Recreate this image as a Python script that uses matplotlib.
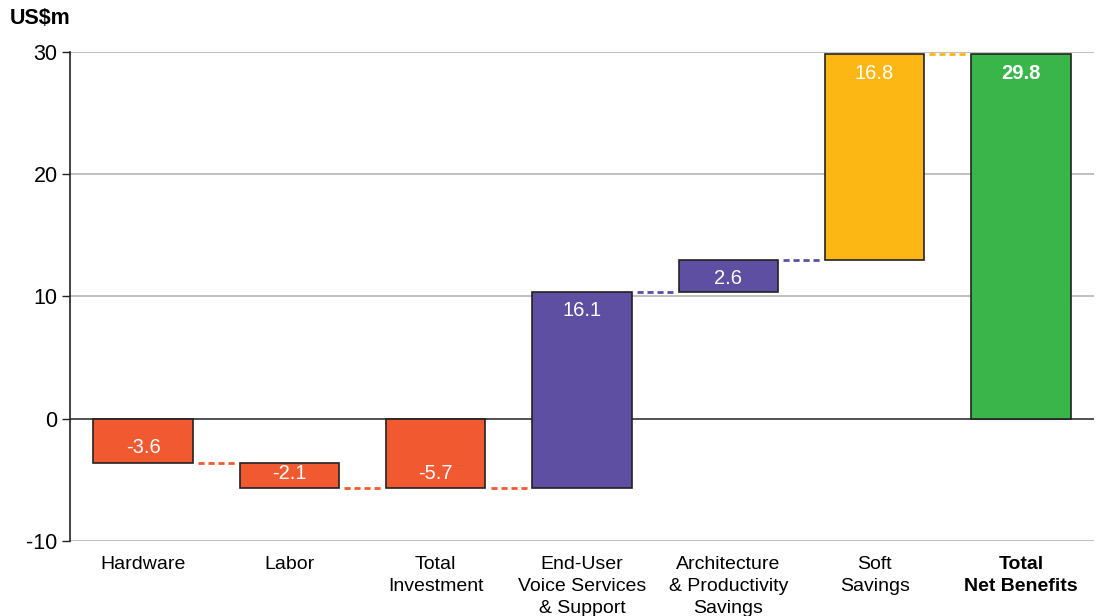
import matplotlib
matplotlib.use("Agg")
import matplotlib.pyplot as plt

plt.rcParams['font.family'] = ['Liberation Sans', 'DejaVu Sans']

categories = ["Hardware", "Labor", "Total\nInvestment", "End-User\nVoice Services\n& Support",
              "Architecture\n& Productivity\nSavings", "Soft\nSavings", "Total\nNet Benefits"]
values = [-3.6, -2.1, -5.7, 16.1, 2.6, 16.8, 29.8]
bases = [0.0, -3.6, 0.0, -5.7, 10.4, 13.0, 0.0]
labels = ["-3.6", "-2.1", "-5.7", "16.1", "2.6", "16.8", "29.8"]
colors = ["#F15A31", "#F15A31", "#F15A31", "#5E4FA2", "#5E4FA2", "#FDB714", "#3AB54A"]
connector_colors = ["#F15A31", "#F15A31", "#F15A31", "#5E4FA2", "#5E4FA2", "#FDB714"]
yticks = [-10, 0, 10, 20, 30]

fig = plt.figure(figsize=(10.99, 6.16), dpi=100)
ax = fig.add_axes([0.0637, 0.1218, 0.9318, 0.7938])

width = 0.68
x = list(range(len(categories)))
ax.bar(x, values, bottom=bases, width=width, color=colors, edgecolor="#222222",
       linewidth=1.2, zorder=3)

# connectors
gap = 0.035
for i in range(len(values) - 1):
    level = bases[i] + values[i]
    ax.plot([i + width / 2 + gap, i + 1 - width / 2 - gap], [level, level],
            linestyle=(0, (2.2, 1.4)), color=connector_colors[i], linewidth=2.0, zorder=2)

# value labels
for i, (v, b, t) in enumerate(zip(values, bases, labels)):
    end = b + v
    off = -19 if v > 0 else 15
    ax.annotate(t, (i, end), xytext=(0, off), textcoords="offset pixels",
                ha="center", va="center", color="white", fontsize=14.5,
                fontweight="bold" if i == len(values) - 1 else "normal", zorder=4)

ax.set_xlim(-0.5, 6.5)
ax.set_ylim(-10, 30)
ax.set_yticks(yticks)
ax.set_yticklabels([str(t) for t in yticks], fontsize=15.5)
ax.tick_params(axis="y", length=6, width=1, color="#222222", pad=3)
ax.set_xticks(x)
ax.set_xticklabels(categories, fontsize=14, linespacing=1.38)
for lbl in ax.get_xticklabels()[-1:]:
    lbl.set_fontweight("bold")
ax.tick_params(axis="x", length=0, pad=11)

for t in yticks:
    ax.axhline(t, color="#333333" if t == 0 else "#b5b5b5", linewidth=1.2, zorder=1)

for s in ["top", "right", "bottom"]:
    ax.spines[s].set_visible(False)
ax.spines["left"].set_color("#222222")
ax.spines["left"].set_linewidth(1.2)

fig.text(0.009, 0.97, "US$m", fontsize=15.5, fontweight="bold", ha="left", va="center")

fig.savefig("out.png", dpi=100)
